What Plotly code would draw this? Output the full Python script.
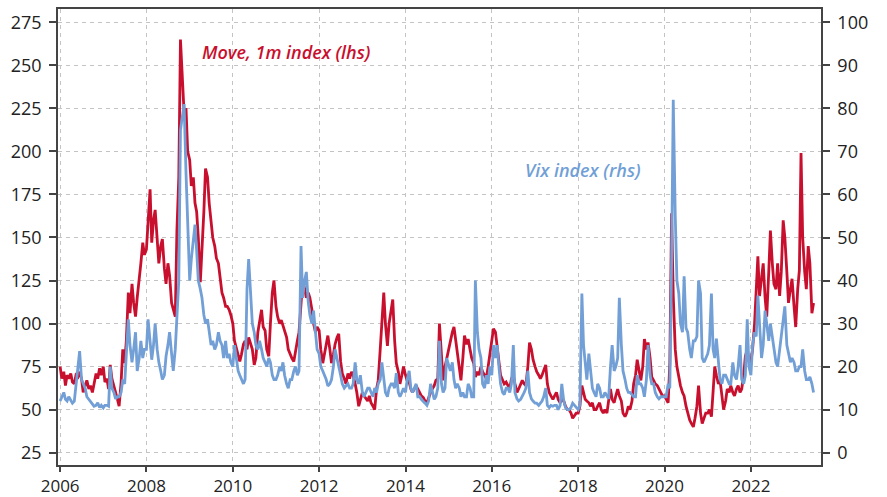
import pandas as pd
import plotly.graph_objects as go

# ---- data (semi-monthly readings: 1st and 15th of each month, Jan 2006 - Jun 2023) ----
move_idx = (
    [75, 68, 72, 64, 70, 68, 71, 66, 65, 70, 69, 72, 68, 60, 64, 67, 62, 64, 60, 66, 71, 68, 74, 70]        # 2006
    + [75, 66, 68, 62, 76, 68, 64, 60, 56, 52, 66, 85, 77, 90, 118, 106, 123, 112, 104, 115, 125, 135, 147, 140]  # 2007
    + [143, 160, 178, 147, 160, 166, 150, 135, 145, 149, 132, 123, 135, 128, 112, 108, 104, 154, 185, 265, 240, 222, 225, 200]  # 2008
    + [195, 180, 185, 170, 165, 150, 124, 140, 165, 190, 185, 170, 160, 150, 145, 138, 135, 125, 118, 115, 110, 110, 108, 105]  # 2009
    + [100, 90, 85, 82, 78, 82, 88, 90, 85, 92, 88, 85, 76, 80, 95, 100, 108, 98, 96, 85, 81, 100, 118, 125]  # 2010
    + [110, 104, 100, 102, 99, 95, 92, 85, 82, 80, 78, 85, 90, 95, 112, 125, 120, 115, 118, 115, 108, 100, 95, 98]  # 2011
    + [96, 85, 77, 83, 88, 93, 85, 77, 82, 88, 92, 94, 78, 71, 68, 65, 71, 68, 72, 70, 65, 60, 52, 56]  # 2012
    + [60, 58, 56, 55, 58, 54, 52, 50, 62, 67, 85, 100, 118, 100, 87, 100, 108, 114, 90, 77, 72, 65, 70, 75]  # 2013
    + [70, 67, 66, 62, 60, 62, 64, 62, 60, 58, 57, 55, 54, 57, 60, 62, 64, 67, 68, 100, 78, 67, 75, 80]  # 2014
    + [85, 91, 95, 98, 90, 85, 75, 67, 80, 93, 88, 91, 85, 80, 77, 69, 72, 70, 75, 72, 70, 68, 75, 82]  # 2015
    + [90, 97, 95, 85, 78, 70, 67, 65, 66, 64, 62, 68, 70, 65, 60, 62, 65, 67, 65, 64, 75, 89, 85, 79]  # 2016
    + [75, 72, 70, 68, 70, 73, 76, 65, 60, 58, 56, 58, 60, 56, 54, 56, 55, 52, 50, 50, 48, 45, 47, 48]  # 2017
    + [48, 52, 64, 60, 56, 55, 54, 52, 54, 50, 50, 52, 54, 50, 48, 50, 48, 55, 62, 56, 54, 58, 62, 58]  # 2018
    + [55, 48, 46, 48, 52, 50, 55, 65, 70, 79, 72, 67, 75, 91, 85, 89, 80, 69, 67, 65, 64, 62, 60, 58]  # 2019
    + [58, 56, 54, 77, 164, 116, 85, 75, 68, 64, 60, 58, 52, 48, 44, 42, 40, 45, 52, 64, 48, 42, 45, 48]  # 2020
    + [48, 50, 46, 60, 75, 70, 65, 67, 58, 50, 55, 62, 60, 64, 60, 58, 62, 64, 60, 62, 70, 81, 85, 78]  # 2021
    + [78, 85, 100, 120, 139, 116, 125, 135, 115, 104, 130, 154, 135, 123, 120, 135, 116, 130, 160, 150, 130, 112, 120, 126]  # 2022
    + [110, 98, 120, 131, 199, 150, 130, 120, 145, 135, 106, 112]  # 2023
)

vix_idx = (
    [12, 13, 14, 12.4, 12, 13, 12, 11.5, 12, 16, 20, 23.6, 17, 16, 15, 13, 12.4, 12, 11.5, 10.8, 11, 11.6, 10.5, 11]  # 2006
    + [10.4, 11, 11, 10.8, 20, 15, 14, 12.5, 13, 13, 14, 17, 16, 24, 31, 25, 21, 24, 28, 19, 22, 26, 22, 24]  # 2007
    + [24, 31, 26, 21.6, 25, 30, 24, 21, 19, 17, 18, 22.4, 25, 28, 23, 19, 24, 32, 40, 75, 79, 81, 65, 52]  # 2008
    + [40, 45, 50, 53, 47, 40, 38, 36, 32, 30, 31, 28, 25, 26, 24, 25, 28, 26, 25, 22, 26, 22, 23, 21]  # 2009
    + [20, 25, 22, 19, 18, 17, 16, 17, 38, 45, 35, 30, 28, 25, 24, 26, 24, 22, 21, 20, 22, 21, 18, 17]  # 2010
    + [17, 18, 20, 19, 21, 18, 16, 15, 17, 17, 19, 20, 18, 19, 48, 36, 40, 42, 35, 32, 30, 33, 28, 24]  # 2011
    + [23, 20, 19, 18, 17, 15.5, 16, 17, 20, 24, 22, 20, 18, 16, 15, 15.5, 16, 15, 15, 16, 21, 17, 16, 18]  # 2012
    + [14, 13, 14, 15, 15, 14, 13, 15, 14, 16, 17, 21, 17, 14, 13, 15, 16, 16, 15, 18.5, 14, 13, 14, 15]  # 2013
    + [14, 17, 19, 15, 14, 15, 16, 13, 13, 12.4, 12, 11.5, 11, 12, 16, 14, 12.4, 13, 15, 26, 16, 14, 15, 22]  # 2014
    + [20, 19, 21, 17, 15, 16, 15, 13, 14, 13, 13, 16, 15, 13, 13, 40, 28, 24, 22, 16, 15, 18, 16, 20]  # 2015
    + [18, 25, 22, 25, 20, 16, 14, 13.5, 15, 15, 14, 16, 25, 14, 12.5, 12, 12.4, 13, 14, 15, 19, 14, 12.5, 12]  # 2016
    + [11.5, 11.5, 11, 11.5, 12, 13, 15, 11, 10.5, 11, 10.8, 11, 11, 10, 11, 16, 12, 10.5, 10, 10, 10.5, 11.5, 11, 10.5]  # 2017
    + [10, 11, 37, 25, 20, 17, 23, 19, 15, 14, 13, 16, 15, 13, 13, 14, 13, 12.5, 20, 25, 19, 20, 22, 36]  # 2018
    + [25, 19, 17, 15, 14, 14, 13.5, 13, 13, 18, 16, 16, 15, 13, 17, 25, 18, 16, 16, 14, 13, 12.5, 13, 13]  # 2019
    + [13, 13, 16, 15, 44, 82, 55, 40, 37, 30, 28, 41, 29, 28, 24, 22, 26, 26, 27, 40, 37, 22, 21, 22]  # 2020
    + [23, 25, 37, 24, 22, 26.5, 22, 17, 16, 18, 18, 17, 16, 16, 21, 18, 17, 20, 25, 17, 16, 18, 31, 20]  # 2021
    + [18, 25, 28, 27, 36.5, 30, 22, 25, 33, 30, 26, 30, 27, 24, 21, 20, 24, 27, 32, 34, 25, 23, 21, 22]  # 2022
    + [21, 19, 19, 20, 20, 24, 19, 17, 17, 17.6, 16, 14]  # 2023
)

dates = pd.date_range("2006-01-01", periods=len(move_idx), freq="SMS")

move_label = "Move, 1m index (lhs)"
vix_label = "Vix index (rhs)"

RED = "#C8102E"
BLUE = "#719FD6"
AXIS = "#444444"
GRID = "#C4C4C4"
FONT = "Open Sans"

fig = go.Figure()
fig.add_trace(go.Scatter(x=dates, y=move_idx, mode="lines", name=move_label,
                         line=dict(color=RED, width=2.8), yaxis="y"))
fig.add_trace(go.Scatter(x=dates, y=vix_idx, mode="lines", name=vix_label,
                         line=dict(color=BLUE, width=2.8), yaxis="y2"))

tickfont = dict(family=FONT, size=18, color="#222222")
xtickfont = dict(family=FONT, size=17, color="#222222")

fig.update_layout(
    width=887, height=497,
    margin=dict(l=58, r=66, t=9, b=32, autoexpand=False),
    paper_bgcolor="white", plot_bgcolor="white",
    showlegend=False,
    xaxis=dict(
        type="date", range=["2005-12-14", "2023-08-17"],
        tick0="2006-01-01", dtick="M24", tickformat="%Y",
        ticks="outside", ticklen=5, tickwidth=1.5, tickcolor=AXIS,
        showline=True, linecolor=AXIS, linewidth=1.5, mirror=True,
        showgrid=True, gridcolor=GRID, gridwidth=1, griddash="4px,4px",
        tickfont=xtickfont, zeroline=False, ticklabelstandoff=0,
        automargin=False,
    ),
    yaxis=dict(
        range=[17.86, 282.7], tick0=25, dtick=25,
        ticks="outside", ticklen=7, tickwidth=1.5, tickcolor=AXIS,
        showline=True, linecolor=AXIS, linewidth=1.5,
        showgrid=True, gridcolor=GRID, gridwidth=1, griddash="4px,4px",
        tickfont=tickfont, zeroline=False, ticklabelstandoff=4,
        automargin=False,
    ),
    yaxis2=dict(
        overlaying="y", side="right",
        range=[-2.86, 103.1], tick0=0, dtick=10,
        ticks="outside", ticklen=7, tickwidth=1.5, tickcolor=AXIS,
        showline=True, linecolor=AXIS, linewidth=1.5,
        showgrid=False, zeroline=False,
        tickfont=tickfont, ticklabelstandoff=4,
        automargin=False,
    ),
    annotations=[
        dict(text=move_label, x="2009-03-28", y=258, xref="x", yref="y",
             xanchor="left", yanchor="middle", showarrow=False,
             font=dict(family=FONT, size=18, color=RED, style="italic", weight=600)),
        dict(text=vix_label, x="2016-09-20", y=189, xref="x", yref="y",
             xanchor="left", yanchor="middle", showarrow=False,
             font=dict(family=FONT, size=18, color=BLUE, style="italic", weight=600)),
    ],
)

fig.write_html("out.html",
               config={"displayModeBar": False},
               post_script="document.body.style.margin='0';document.body.style.padding='0';")
